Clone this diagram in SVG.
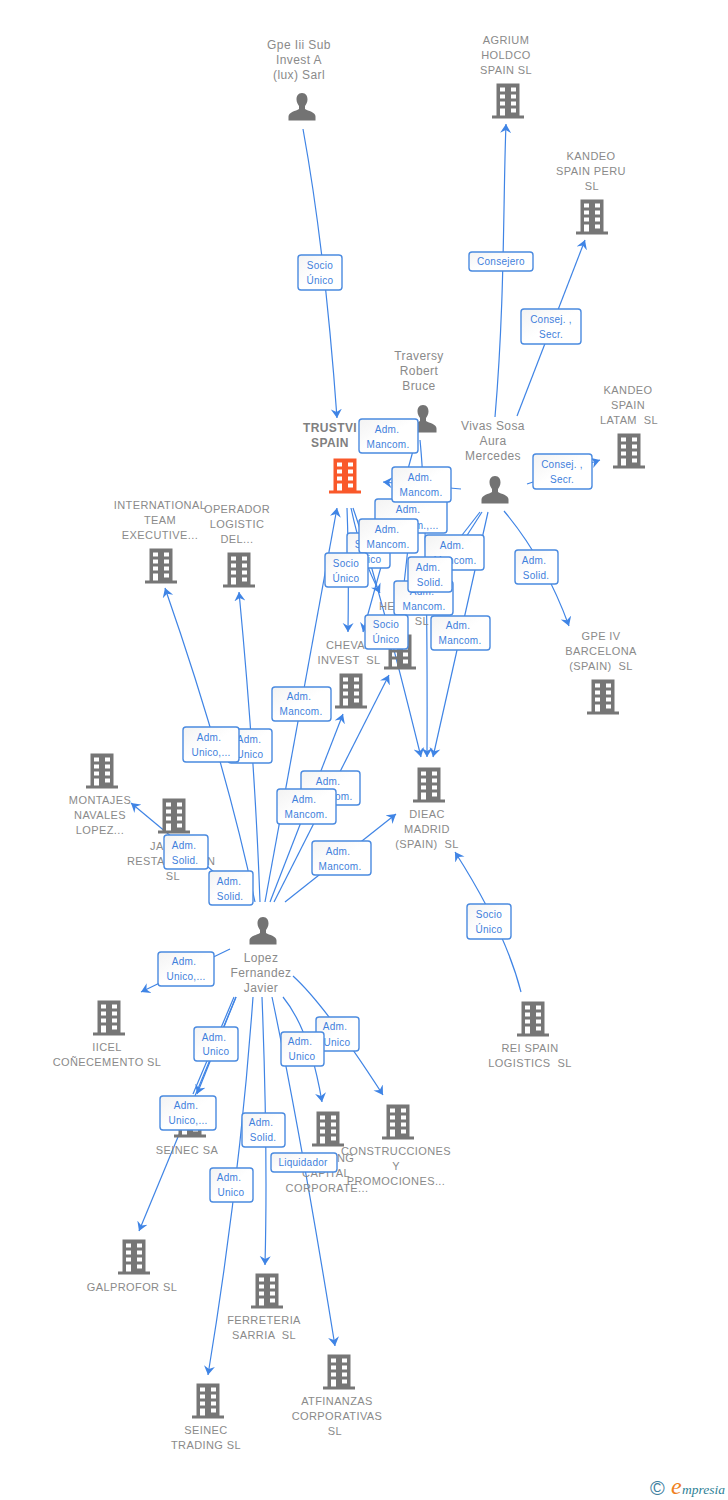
<svg xmlns="http://www.w3.org/2000/svg" width="728" height="1500" viewBox="0 0 728 1500">
<style>
text{font-family:"Liberation Sans",Arial,sans-serif}
.b{font-size:11px;letter-spacing:.4px;fill:#8a8a8a;text-anchor:middle}
.p{font-size:12px;letter-spacing:.4px;fill:#8a8a8a;text-anchor:middle}
.s{text-anchor:start}
.t{font-weight:bold;font-size:12px;fill:#808080}
.e{fill:none;stroke:#3f84e5;stroke-width:1.2;marker-end:url(#a)}
.n{fill:none;stroke:#3f84e5;stroke-width:1.2}
.l rect{fill:url(#g);stroke:#4a8ae0;stroke-width:1.4}
.l text{font-size:10px;letter-spacing:.25px;fill:#3f7fdc;text-anchor:middle}
</style>
<defs>
<linearGradient id="g" x1="0" y1="0" x2="1" y2="1"><stop offset="0" stop-color="#f3f3f3"/><stop offset=".5" stop-color="#fff"/></linearGradient>
<marker id="a" markerUnits="userSpaceOnUse" markerWidth="12" markerHeight="12" refX="9" refY="6" orient="auto"><path d="M9,6 L0,0.5 L3,6 L0,11.5 Z" fill="#3f84e5"/></marker>
<symbol id="bld" overflow="visible"><path fill-rule="evenodd" d="M-11.500,-17.500H11.500V14.500H16V17.500H-16V14.500H-11.500ZM-8,-13.500V-9.500H-3V-13.500ZM3,-13.500V-9.500H8V-13.500ZM-8,-6.500V-2.500H-3V-6.500ZM3,-6.500V-2.500H8V-6.500ZM-8,0.500V4.500H-3V0.500ZM3,0.500V4.500H8V0.500ZM-8,7.500V14.500H-3V7.500ZM3,7.500V11.500H8V7.500Z"/></symbol>
<symbol id="per" overflow="visible"><path d="M0,-14C4,-14 5.500,-11 5.500,-7.500C5.500,-4.500 4,-2.500 3,-1V2C6,4 13.500,5 13.500,9.500V13.500H-13.500V9.500C-13.500,5 -6,4 -3,2V-1C-4,-2.500 -5.500,-4.500 -5.500,-7.500C-5.500,-11 -4,-14 0,-14Z" fill="#737373"/></symbol>
</defs>

<g id="connectors">
<path class="e" d="M303,129Q325,250 337,418"/>
<path class="e" d="M495,417C505,300 503,200 506,124"/>
<path class="e" d="M517,416L585,240"/>
<path class="e" d="M527,484L600,460"/>
<path class="e" d="M504,511Q545,560 569,626"/>
<path class="e" d="M461,489L383,482"/>
<path class="e" d="M416,440L363,632"/>
<path class="e" d="M420,440Q428,520 427,757"/>
<path class="e" d="M347,508Q349,560 348,632"/>
<path class="e" d="M351,508Q362,560 380,593"/>
<path class="e" d="M353,508Q375,570 421,757"/>
<path class="e" d="M410,530L403,593"/>
<path class="e" d="M482,512L430,593"/>
<path class="e" d="M480,512L382,638"/>
<path class="e" d="M488,512L433,757"/>
<path class="e" d="M265,902L337,508"/>
<path class="e" d="M260,902Q255,760 239,592"/>
<path class="e" d="M255,902Q225,760 165,588"/>
<path class="e" d="M270,902L343,714"/>
<path class="e" d="M274,902L389,675"/>
<path class="e" d="M285,902L396,814"/>
<path class="e" d="M250,902L131,803"/>
<path class="e" d="M230,949L141,992"/>
<path class="e" d="M236,997L197,1094"/>
<path class="n" d="M234,997L193,1094"/>
<path class="e" d="M236,997L139,1231"/>
<path class="e" d="M253,997Q240,1180 208,1375"/>
<path class="e" d="M262,997Q268,1150 265,1265"/>
<path class="e" d="M272,997Q300,1130 335,1346"/>
<path class="e" d="M283,997Q310,1030 322,1102"/>
<path class="e" d="M293,976Q325,1005 383,1095"/>
<path class="e" d="M521,992Q505,930 455,852"/>
</g>

<g id="n-gpe"><text class="p" x="299" y="49">Gpe Iii Sub</text><text class="p" x="299" y="64">Invest A</text><text class="p" x="299" y="79">(lux) Sarl</text><use href="#per" x="302" y="107"/></g>
<g id="n-agrium"><text class="b" x="506" y="44">AGRIUM</text><text class="b" x="506" y="59">HOLDCO</text><text class="b" x="506" y="74">SPAIN SL</text><use href="#bld" x="508" y="101" fill="#767676"/></g>
<g id="n-kperu"><text class="b" x="591" y="160">KANDEO</text><text class="b" x="591" y="175">SPAIN PERU</text><text class="b" x="592" y="190">SL</text><use href="#bld" x="592" y="217" fill="#767676"/></g>
<g id="n-klatam"><text class="b" x="628" y="394">KANDEO</text><text class="b" x="628" y="409">SPAIN</text><text class="b" x="629" y="424" xml:space="preserve">LATAM  SL</text><use href="#bld" x="629" y="451" fill="#767676"/></g>
<g id="n-trustvi"><text class="b t" x="330" y="432">TRUSTVI</text><text class="b t" x="330" y="447">SPAIN</text><use href="#bld" x="345" y="476" fill="#f9582a"/></g>
<g id="n-traversy"><text class="p" x="419" y="360">Traversy</text><text class="p" x="419" y="375">Robert</text><text class="p" x="419" y="390">Bruce</text><use href="#per" x="423" y="419"/></g>
<g id="n-vivas"><text class="p" x="493" y="430">Vivas Sosa</text><text class="p" x="493" y="445">Aura</text><text class="p" x="493" y="460">Mercedes</text><use href="#per" x="495" y="490"/></g>
<g id="n-intl"><text class="b" x="160" y="509">INTERNATIONAL</text><text class="b" x="160" y="524">TEAM</text><text class="b" x="160" y="539">EXECUTIVE...</text><use href="#bld" x="161" y="566" fill="#767676"/></g>
<g id="n-operador"><text class="b" x="237" y="513">OPERADOR</text><text class="b" x="237" y="528">LOGISTIC</text><text class="b" x="237" y="543">DEL...</text><use href="#bld" x="239" y="570" fill="#767676"/></g>
<g id="n-cheva"><text class="b s" x="326" y="649">CHEVA</text><text class="b" x="349" y="664" xml:space="preserve">INVEST  SL</text><use href="#bld" x="351" y="691" fill="#767676"/></g>
<g id="n-he"><text class="b s" x="379" y="610">HE</text><text class="b" x="422" y="625">SL</text><use href="#bld" x="400" y="652" fill="#767676"/></g>
<g id="n-gpeiv"><text class="b" x="601" y="640">GPE IV</text><text class="b" x="601" y="655">BARCELONA</text><text class="b" x="601" y="670" xml:space="preserve">(SPAIN)  SL</text><use href="#bld" x="603" y="697" fill="#767676"/></g>
<g id="n-dieac"><use href="#bld" x="429" y="785" fill="#767676"/><text class="b" x="427" y="818">DIEAC</text><text class="b" x="427" y="833">MADRID</text><text class="b" x="427" y="848" xml:space="preserve">(SPAIN)  SL</text></g>
<g id="n-montajes"><use href="#bld" x="102" y="771" fill="#767676"/><text class="b" x="100" y="804">MONTAJES</text><text class="b" x="100" y="819">NAVALES</text><text class="b" x="100" y="834">LOPEZ...</text></g>
<g id="n-ja"><use href="#bld" x="174" y="816" fill="#767676"/><text class="b s" x="150" y="850">JA</text><text class="b s" x="127" y="865">RESTA</text><text class="b s" x="207" y="865">N</text><text class="b" x="173" y="880">SL</text></g>
<g id="n-lopez"><use href="#per" x="263" y="931"/><text class="p" x="261" y="962">Lopez</text><text class="p" x="261" y="977">Fernandez</text><text class="p" x="261" y="992">Javier</text></g>
<g id="n-iicel"><use href="#bld" x="109" y="1018" fill="#767676"/><text class="b" x="107" y="1051">IICEL</text><text class="b" x="107" y="1066">COÑECEMENTO SL</text></g>
<g id="n-rei"><use href="#bld" x="533" y="1019" fill="#767676"/><text class="b" x="530" y="1052">REI SPAIN</text><text class="b" x="530" y="1067" xml:space="preserve">LOGISTICS  SL</text></g>
<g id="n-seinecsa"><use href="#bld" x="190" y="1120" fill="#767676"/><text class="b" x="187" y="1154">SEINEC SA</text></g>
<g id="n-ing"><use href="#bld" x="328" y="1129" fill="#767676"/><text class="b s" x="337" y="1162">NG</text><text class="b" x="326" y="1177">CAPITAL</text><text class="b" x="327" y="1192">CORPORATE...</text></g>
<g id="n-constr"><use href="#bld" x="398" y="1122" fill="#767676"/><text class="b" x="396" y="1155">CONSTRUCCIONES</text><text class="b" x="396" y="1170">Y</text><text class="b" x="396" y="1185">PROMOCIONES...</text></g>
<g id="n-galprofor"><use href="#bld" x="134" y="1257" fill="#767676"/><text class="b" x="132" y="1291">GALPROFOR SL</text></g>
<g id="n-ferreteria"><use href="#bld" x="267" y="1291" fill="#767676"/><text class="b" x="264" y="1324">FERRETERIA</text><text class="b" x="264" y="1339" xml:space="preserve">SARRIA  SL</text></g>
<g id="n-atf"><use href="#bld" x="339" y="1372" fill="#767676"/><text class="b" x="337" y="1405">ATFINANZAS</text><text class="b" x="337" y="1420">CORPORATIVAS</text><text class="b" x="335" y="1435">SL</text></g>
<g id="n-seinectr"><use href="#bld" x="208" y="1401" fill="#767676"/><text class="b" x="206" y="1434">SEINEC</text><text class="b" x="206" y="1449">TRADING SL</text></g>

<g id="edge-labels">
<g class="l"><rect x="298" y="255" width="44" height="35" rx="3"/><text x="320" y="269">Socio</text><text x="320" y="284">Único</text></g>
<g class="l"><rect x="469" y="252" width="64" height="19" rx="3"/><text x="501" y="265">Consejero</text></g>
<g class="l"><rect x="521" y="309" width="60" height="35" rx="3"/><text x="551" y="323">Consej. ,</text><text x="551" y="338">Secr.</text></g>
<g class="l"><rect x="533" y="454" width="59" height="35" rx="3"/><text x="562" y="468">Consej. ,</text><text x="562" y="483">Secr.</text></g>
<g class="l"><rect x="515" y="550" width="43" height="34" rx="3"/><text x="534" y="564">Adm.</text><text x="536" y="579">Solid.</text></g>
<g class="l"><rect x="359" y="419" width="59" height="34" rx="3"/><text x="387" y="433">Adm.</text><text x="388" y="448">Mancom.</text></g>
<g class="l"><rect x="375" y="499" width="72" height="34" rx="3"/><text x="408" y="513">Adm.</text><text x="411" y="529">Mancom.,...</text></g>
<g class="l"><rect x="392" y="467" width="59" height="35" rx="3"/><text x="420" y="481">Adm.</text><text x="421" y="496">Mancom.</text></g>
<g class="l"><rect x="347" y="533" width="43" height="35" rx="3"/><text x="368" y="548">Socio</text><text x="368" y="563">Único</text></g>
<g class="l"><rect x="425" y="535" width="59" height="35" rx="3"/><text x="452" y="549">Adm.</text><text x="455" y="564">Mancom.</text></g>
<g class="l"><rect x="359" y="519" width="59" height="34" rx="3"/><text x="387" y="533">Adm.</text><text x="388" y="548">Mancom.</text></g>
<g class="l"><rect x="325" y="553" width="43" height="34" rx="3"/><text x="346" y="567">Socio</text><text x="346" y="582">Único</text></g>
<g class="l"><rect x="394" y="581" width="59" height="34" rx="3"/><text x="422" y="595">Adm.</text><text x="424" y="610">Mancom.</text></g>
<g class="l"><rect x="408" y="557" width="44" height="35" rx="3"/><text x="428" y="571">Adm.</text><text x="430" y="586">Solid.</text></g>
<g class="l"><rect x="365" y="615" width="43" height="34" rx="3"/><text x="386" y="628">Socio</text><text x="386" y="643">Único</text></g>
<g class="l"><rect x="431" y="616" width="59" height="34" rx="3"/><text x="458" y="629">Adm.</text><text x="460" y="644">Mancom.</text></g>
<g class="l"><rect x="272" y="687" width="59" height="34" rx="3"/><text x="299" y="700">Adm.</text><text x="301" y="715">Mancom.</text></g>
<g class="l"><rect x="228" y="729" width="44" height="34" rx="3"/><text x="249" y="743">Adm.</text><text x="250" y="758">Unico</text></g>
<g class="l"><rect x="183" y="727" width="56" height="35" rx="3"/><text x="209" y="741">Adm.</text><text x="211" y="756">Unico,...</text></g>
<g class="l"><rect x="301" y="771" width="59" height="34" rx="3"/><text x="328" y="785">Adm.</text><text x="331" y="800">Mancom.</text></g>
<g class="l"><rect x="277" y="789" width="59" height="35" rx="3"/><text x="304" y="803">Adm.</text><text x="306" y="818">Mancom.</text></g>
<g class="l"><rect x="312" y="841" width="59" height="34" rx="3"/><text x="338" y="855">Adm.</text><text x="340" y="870">Mancom.</text></g>
<g class="l"><rect x="209" y="871" width="44" height="34" rx="3"/><text x="229" y="885">Adm.</text><text x="230" y="900">Solid.</text></g>
<g class="l"><rect x="164" y="835" width="44" height="34" rx="3"/><text x="184" y="849">Adm.</text><text x="185" y="864">Solid.</text></g>
<g class="l"><rect x="467" y="904" width="44" height="35" rx="3"/><text x="489" y="918">Socio</text><text x="489" y="933">Único</text></g>
<g class="l"><rect x="158" y="952" width="56" height="34" rx="3"/><text x="184" y="965">Adm.</text><text x="186" y="980">Unico,...</text></g>
<g class="l"><rect x="194" y="1027" width="44" height="34" rx="3"/><text x="214" y="1041">Adm.</text><text x="216" y="1055">Unico</text></g>
<g class="l"><rect x="316" y="1017" width="43" height="34" rx="3"/><text x="335" y="1030">Adm.</text><text x="337" y="1046">Unico</text></g>
<g class="l"><rect x="281" y="1032" width="43" height="34" rx="3"/><text x="300" y="1045">Adm.</text><text x="302" y="1060">Unico</text></g>
<g class="l"><rect x="160" y="1096" width="56" height="34" rx="3"/><text x="186" y="1109">Adm.</text><text x="188" y="1124">Unico,...</text></g>
<g class="l"><rect x="242" y="1113" width="43" height="34" rx="3"/><text x="261" y="1126">Adm.</text><text x="263" y="1141">Solid.</text></g>
<g class="l"><rect x="271" y="1153" width="66" height="19" rx="3"/><text x="303" y="1166">Liquidador</text></g>
<g class="l"><rect x="210" y="1168" width="43" height="34" rx="3"/><text x="229" y="1181">Adm.</text><text x="231" y="1196">Unico</text></g>
</g>

<g id="logo">
<text x="650" y="1495" font-size="20" fill="#3f7f9f">©</text>
<text x="671" y="1494" font-size="24" font-style="italic" fill="#f08020" style="font-family:'Liberation Serif',serif">e</text>
<text x="682" y="1494" font-size="13.500" font-style="italic" fill="#2f7f96" style="font-family:'Liberation Serif',serif">mpresia</text>
</g>
</svg>
